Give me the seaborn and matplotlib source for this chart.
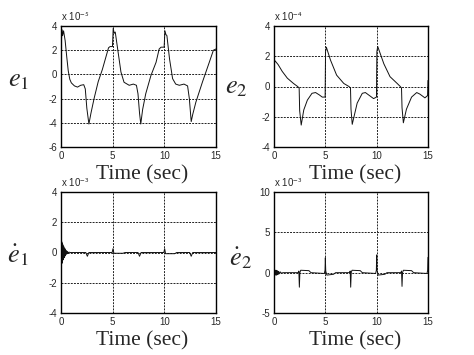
import matplotlib
matplotlib.use("Agg")
import matplotlib.pyplot as plt
import seaborn as sns
import pandas as pd

# e1 (x 1e-5)
e1_t = [0.0, 0.08, 0.15, 0.25, 0.4, 0.55, 0.7, 0.85, 1.0, 1.3, 1.6, 1.9, 2.2, 2.35, 2.5, 2.7, 2.9, 3.2,
        3.6, 4.0, 4.3, 4.6, 4.75, 4.98,
        5.05, 5.15, 5.25, 5.5, 5.8, 6.1, 6.6, 7.0, 7.3, 7.45, 7.6, 7.72, 7.9, 8.2, 8.7, 9.2, 9.5, 9.68, 9.98,
        10.06, 10.15, 10.25, 10.5, 10.8, 11.1, 11.45, 11.9, 12.25, 12.42, 12.6, 12.75, 13.05, 13.7, 14.35,
        14.75, 15.0]
e1_v = [1.6, 3.7, 3.2, 3.6, 2.8, 1.5, 0.3, -0.4, -0.7, -0.95, -1.05, -0.9, -0.85, -1.2, -2.8, -4.1, -3.2, -2.0,
        -0.6, 0.4, 1.3, 2.2, 2.3, 2.3,
        3.8, 3.4, 3.5, 2.0, 0.2, -0.65, -0.9, -0.8, -0.9, -1.6, -3.2, -4.1, -2.9, -1.6, -0.1, 1.0, 2.1, 2.25, 2.25,
        3.6, 3.3, 3.2, 1.3, -0.35, -0.8, -0.9, -0.8, -0.95, -2.0, -3.9, -3.3, -2.3, -0.6, 1.0,
        2.0, 2.1]

# e2 (x 1e-4)
e2_t = [0.0, 0.02, 0.1, 0.4, 0.8, 1.3, 1.9, 2.3, 2.45, 2.5, 2.65, 2.9, 3.25, 3.7, 4.05, 4.4, 4.7, 4.98,
        5.02, 5.1, 5.5, 6.1, 6.8, 7.3, 7.45, 7.5, 7.62, 8.1, 8.6, 8.9, 9.2, 9.7, 9.98,
        10.02, 10.1, 10.7, 11.3, 12.0, 12.3, 12.42, 12.47, 12.6, 12.9, 13.4, 13.9, 14.2, 14.7, 14.96, 15.0]
e2_v = [0.9, 1.5, 1.7, 1.45, 1.0, 0.55, 0.2, 0.0, -0.1, -1.6, -2.55, -1.55, -0.9, -0.45, -0.4, -0.55, -0.7, -0.7,
        2.3, 2.6, 1.75, 0.75, 0.2, 0.0, -0.1, -1.5, -2.5, -1.1, -0.45, -0.4, -0.55, -0.8, -0.7,
        2.3, 2.65, 1.5, 0.65, 0.2, 0.0, -0.1, -1.4, -2.4, -1.5, -0.7, -0.4, -0.5, -0.75, -0.6, 0.4]

# de1/dt (x 1e-3)
de1_t = [0.0, 0.02, 0.04, 0.06, 0.08, 0.10, 0.12, 0.14, 0.16, 0.18, 0.20, 0.23, 0.26, 0.29, 0.32, 0.35,
         0.38, 0.42, 0.46, 0.5, 0.55, 0.6, 0.65, 0.7, 0.8, 0.9,
         2.4, 2.55, 2.7, 4.95, 5.03, 5.12, 6.0, 6.2, 7.45, 7.6, 7.75, 9.95, 10.03, 10.12, 11.0, 11.2,
         12.45, 12.6, 12.75, 15.0]
de1_v = [0.9, -0.8, 0.8, -0.75, 0.7, -0.7, 0.6, -0.6, 0.55, -0.5, 0.45, -0.45, 0.4, -0.35, 0.3, -0.3,
         0.25, -0.2, 0.15, -0.12, 0.1, -0.08, 0.05, -0.04, 0.02, 0.0,
         0.0, -0.25, 0.0, 0.0, 0.25, -0.05, -0.05, 0.0, 0.0, -0.25, 0.0, 0.0, 0.25, -0.08, -0.08, 0.0,
         0.0, -0.25, 0.0, 0.0]

# de2/dt (x 1e-3)
de2_t = [0.0, 0.03, 0.08, 0.12, 0.16, 0.2, 0.24, 0.28, 0.32, 0.36, 0.4, 0.45, 0.5, 0.6, 0.7, 0.9,
         2.35, 2.42, 2.47, 2.52, 2.6, 3.4, 3.6, 4.9, 4.97, 5.0, 5.04, 5.15, 5.8, 6.0,
         7.35, 7.42, 7.47, 7.52, 7.6, 8.4, 8.6, 9.9, 9.97, 10.0, 10.04, 10.15, 10.8, 11.0,
         12.35, 12.42, 12.47, 12.52, 12.6, 13.4, 13.6, 14.9, 14.97, 15.0]
de2_v = [4.0, 0.5, 0.0, 0.3, -0.3, 0.3, -0.3, 0.25, -0.25, 0.2, -0.2, 0.15, -0.15, 0.1, -0.05, 0.0,
         0.0, 0.2, -1.8, 0.0, 0.3, 0.25, 0.0, -0.1, 0.3, 1.85, 0.2, -0.3, -0.2, 0.0,
         0.0, 0.2, -1.8, 0.0, 0.3, 0.25, 0.0, -0.1, 0.3, 2.2, 0.3, -0.3, -0.2, 0.0,
         0.0, 0.2, -1.7, 0.0, 0.3, 0.25, 0.0, -0.1, 0.3, 1.9]

sns.set_style("white")
plt.rcParams["font.family"] = ["Liberation Sans", "DejaVu Sans"]
plt.rcParams["mathtext.fontset"] = "stix"
plt.rcParams["axes.unicode_minus"] = False

W, H = 474, 355
fig = plt.figure(figsize=(W / 100, H / 100), dpi=100)


def px_axes(x0, y0, x1, y1):
    return fig.add_axes([x0 / W, 1 - y1 / H, (x1 - x0) / W, (y1 - y0) / H])


def ftext(x, y, s, **kw):
    fig.text(x / W, 1 - y / H, s, **kw)


panels = [
    (e1_t, e1_v, (61, 26, 216, 147), [-6, -4, -2, 0, 2, 4], "-5", r"$e_{\mathit{1}}$", (19, 80), 175),
    (e2_t, e2_v, (274, 26, 428, 147), [-4, -2, 0, 2, 4], "-4", r"$e_2$", (236, 87), 175),
    (de1_t, de1_v, (61, 192, 216, 313), [-4, -2, 0, 2, 4], "-3", r"$\dot{e}_1$", (18, 255), 341),
    (de2_t, de2_v, (274, 192, 428, 313), [-5, 0, 5, 10], "-3", r"$\dot{e}_2$", (240, 258), 341),
]

for t, v, box, yt, expo, lab, lpos, ty in panels:
    ax = px_axes(*box)
    df = pd.DataFrame({"t": t, "v": v})
    sns.lineplot(data=df, x="t", y="v", ax=ax, color="#111111", linewidth=0.7, sort=False)
    ax.set_xlim(0, 15)
    ax.set_ylim(yt[0], yt[-1])
    ax.set_xticks([0, 5, 10, 15])
    ax.set_yticks(yt)
    ax.set_xlabel("")
    ax.set_ylabel("")
    ax.grid(True, linestyle=(0, (2, 1.2)), color="#222222", linewidth=0.7)
    ax.tick_params(labelsize=7, length=0, pad=3)
    for s in ax.spines.values():
        s.set_color("black")
        s.set_linewidth(1.0)
    ftext(box[0], box[1] - 9, r"x 10$^{\mathsf{" + expo + "}}$", fontsize=7, ha="left", va="center")
    ftext(lpos[0], lpos[1], lab, fontsize=19, ha="center", va="center")
    ftext((box[0] + box[2]) / 2 + 4, ty, "Time (sec)", fontsize=15.5, ha="center", va="center",
          family="Liberation Serif")

fig.savefig("out.png", dpi=100)
